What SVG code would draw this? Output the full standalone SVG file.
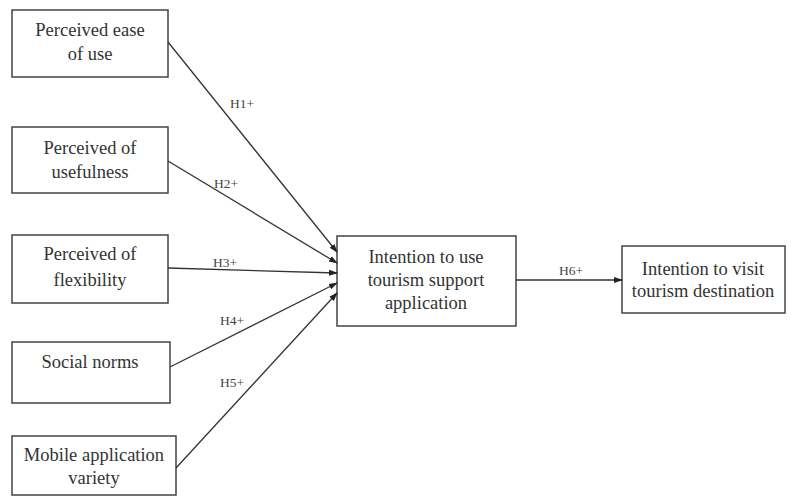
<svg xmlns="http://www.w3.org/2000/svg" width="791" height="499" viewBox="0 0 791 499">
<style>
.box{fill:#fff;stroke:#444;stroke-width:1.5}
.t{font-family:"Liberation Serif",serif;font-size:18.5px;fill:#333;text-anchor:middle}
.l{font-family:"Liberation Serif",serif;font-size:13.5px;fill:#444;text-anchor:middle}
.c{stroke:#333;stroke-width:1.3;fill:none;marker-end:url(#ah)}
</style>
<defs>
<marker id="ah" markerWidth="9" markerHeight="8" refX="8" refY="4" orient="auto" markerUnits="userSpaceOnUse">
<path d="M0,1 L9,4 L0,7 Z" fill="#222"/>
</marker>
</defs>
<rect width="791" height="499" fill="#fff"/>
<g id="n1"><rect class="box" x="12" y="10" width="156" height="67"/><text class="t" x="90" y="36">Perceived ease</text><text class="t" x="90" y="60">of use</text></g>
<g id="n2"><rect class="box" x="12" y="127" width="156" height="66"/><text class="t" x="90" y="154">Perceived of</text><text class="t" x="90" y="178">usefulness</text></g>
<g id="n3"><rect class="box" x="12" y="235" width="156" height="68"/><text class="t" x="90" y="260">Perceived of</text><text class="t" x="90" y="286">flexibility</text></g>
<g id="n4"><rect class="box" x="12" y="342" width="158" height="61"/><text class="t" x="90" y="368">Social norms</text></g>
<g id="n5"><rect class="box" x="12" y="436" width="164" height="59"/><text class="t" x="94" y="461">Mobile application</text><text class="t" x="94" y="484">variety</text></g>
<g id="n6"><rect class="box" x="337" y="236" width="179" height="90"/><text class="t" x="426" y="263">Intention to use</text><text class="t" x="426" y="286">tourism support</text><text class="t" x="426" y="309">application</text></g>
<g id="n7"><rect class="box" x="622" y="246" width="163" height="67"/><text class="t" x="703" y="275">Intention to visit</text><text class="t" x="703" y="297">tourism destination</text></g>
<g id="connectors">
<line class="c" x1="168" y1="42" x2="337" y2="252"/>
<line class="c" x1="168" y1="161" x2="337" y2="263"/>
<line class="c" x1="168" y1="268" x2="337" y2="273"/>
<line class="c" x1="170" y1="367" x2="337" y2="283"/>
<line class="c" x1="176" y1="468" x2="337" y2="293"/>
<line class="c" x1="516" y1="280" x2="622" y2="280"/>
<text class="l" x="242" y="108">H1+</text>
<text class="l" x="226" y="188">H2+</text>
<text class="l" x="225" y="267">H3+</text>
<text class="l" x="232" y="325">H4+</text>
<text class="l" x="232" y="387">H5+</text>
<text class="l" x="571" y="275">H6+</text>
</g>
</svg>
